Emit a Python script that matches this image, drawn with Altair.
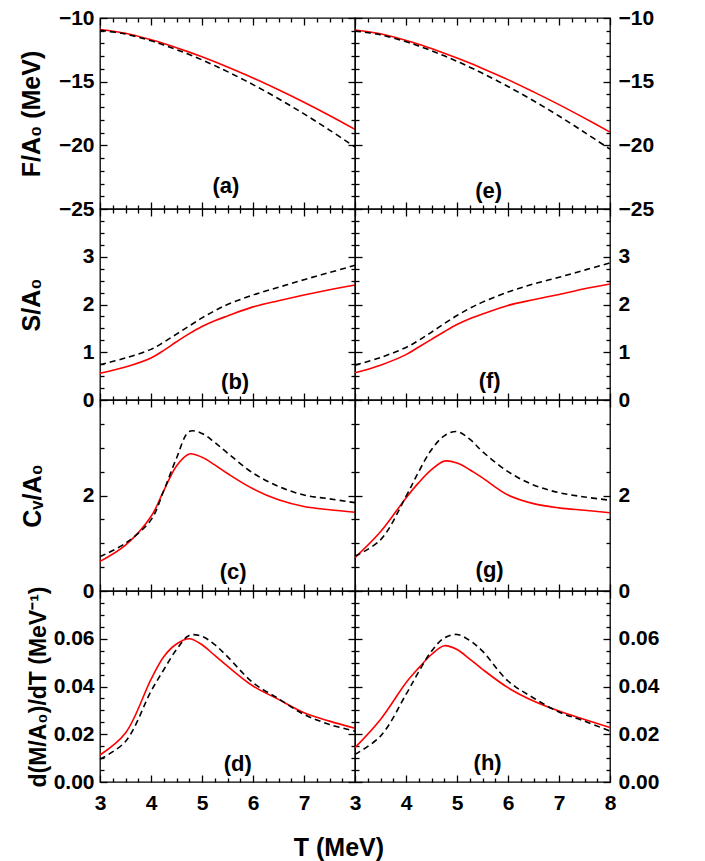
import altair as alt
import pandas as pd

# ---------------- data ----------------
T = [3, 3.5, 4, 4.25, 4.5, 4.75, 5, 5.25, 5.5, 6, 6.5, 7, 7.5, 8]

# free energy F/A0 (MeV)
a_red   = [-10.90, -11.20, -11.71, -12.00, -12.33, -12.68, -13.05, -13.44, -13.85, -14.71, -15.64, -16.62, -17.66, -18.75]
a_black = [-10.97, -11.26, -11.79, -12.12, -12.48, -12.87, -13.29, -13.74, -14.21, -15.23, -16.34, -17.53, -18.80, -20.13]
e_red   = [-10.94, -11.24, -11.76, -12.06, -12.40, -12.76, -13.14, -13.54, -13.96, -14.84, -15.80, -16.80, -17.86, -18.96]
e_black = [-11.02, -11.32, -11.86, -12.20, -12.57, -12.97, -13.40, -13.86, -14.34, -15.38, -16.50, -17.70, -18.98, -20.30]

# entropy S/A0
b_red   = [0.56, 0.69, 0.88, 1.04, 1.22, 1.39, 1.54, 1.66, 1.76, 1.95, 2.08, 2.20, 2.31, 2.41]
b_black = [0.74, 0.88, 1.06, 1.21, 1.38, 1.55, 1.72, 1.87, 2.00, 2.20, 2.36, 2.52, 2.67, 2.82]
f_red   = [0.57, 0.73, 0.95, 1.11, 1.27, 1.43, 1.58, 1.70, 1.80, 1.98, 2.10, 2.21, 2.33, 2.43]
f_black = [0.73, 0.89, 1.10, 1.25, 1.42, 1.60, 1.77, 1.92, 2.05, 2.26, 2.43, 2.57, 2.72, 2.87]

# heat capacity Cv/A0
c_red   = [0.62, 0.96, 1.56, 2.10, 2.62, 2.87, 2.80, 2.64, 2.46, 2.14, 1.91, 1.77, 1.70, 1.65]
c_black = [0.72, 1.00, 1.49, 2.10, 2.78, 3.34, 3.30, 3.11, 2.89, 2.47, 2.19, 2.01, 1.93, 1.85]
g_red   = [0.70, 1.24, 1.95, 2.27, 2.54, 2.72, 2.68, 2.54, 2.37, 2.01, 1.83, 1.74, 1.69, 1.64]
g_black = [0.73, 1.07, 1.98, 2.50, 2.96, 3.25, 3.34, 3.18, 2.92, 2.50, 2.22, 2.06, 1.97, 1.90]

# d(M/A0)/dT (MeV^-1)
d_red   = [0.0113, 0.0205, 0.0430, 0.0525, 0.0578, 0.0600, 0.0575, 0.0530, 0.0485, 0.0402, 0.0346, 0.0290, 0.0255, 0.0225]
d_black = [0.0095, 0.0170, 0.0380, 0.0470, 0.0555, 0.0614, 0.0610, 0.0575, 0.0525, 0.0416, 0.0349, 0.0283, 0.0241, 0.0213]
h_red   = [0.0144, 0.0262, 0.0416, 0.0478, 0.0534, 0.0571, 0.0555, 0.0515, 0.0472, 0.0395, 0.0339, 0.0297, 0.0262, 0.0228]
h_black = [0.0116, 0.0192, 0.0367, 0.0462, 0.0548, 0.0603, 0.0618, 0.0593, 0.0548, 0.0423, 0.0352, 0.0293, 0.0255, 0.0213]

panel_tags = ["(a)", "(b)", "(c)", "(d)", "(e)", "(f)", "(g)", "(h)"]
tag_x = [5.47, 5.65, 5.61, 5.70, 5.62, 5.64, 5.64, 5.60]
tag_y = [-23.2, 0.37, 0.40, 0.0074, -23.6, 0.40, 0.43, 0.0081]

y_titles = ["F/A\u2080 (MeV)", "S/A\u2080", "C\u1d65/A\u2080", "d(M/A\u2080)/dT (MeV\u207b\u00b9)"]
x_title = "T (MeV)"

x_major_left = [3, 4, 5, 6, 7]
x_major_right = [3, 4, 5, 6, 7, 8]
x_minor = [3.25, 3.5, 3.75, 4.25, 4.5, 4.75, 5.25, 5.5, 5.75, 6.25, 6.5, 6.75, 7.25, 7.5, 7.75]

y_domains = [[-25, -10], [0, 4], [0, 4], [0, 0.08]]
y_major = [[-25, -20, -15, -10], [0, 1, 2, 3], [0, 2], [0, 0.02, 0.04, 0.06]]
y_minor = [
    [-24, -23, -22, -21, -19, -18, -17, -16, -14, -13, -12, -11],
    [0.25, 0.5, 0.75, 1.25, 1.5, 1.75, 2.25, 2.5, 2.75, 3.25, 3.5, 3.75],
    [0.5, 1, 1.5, 2.5, 3, 3.5],
    [0.005, 0.01, 0.015, 0.025, 0.03, 0.035, 0.045, 0.05, 0.055, 0.065, 0.07, 0.075],
]
y_formats = ["d", "d", "d", ".2f"]
y_title_x = [-68, -68, -67, -62]
y_title_size = [25, 25, 25, 23]

FONT = "Liberation Sans"
MAJ = 7
MIN = 4
TW = 1.3


def x_axis(orient, values, size, labels):
    kw = dict(orient=orient, values=values, tickSize=size, offset=-size, domain=False,
              grid=False, labels=labels, title=None, tickColor="black", tickWidth=TW)
    if labels:
        kw.update(labelFont=FONT, labelFontSize=21, labelFontWeight="bold", labelColor="black",
                  labelPadding=10, format="d", labelFlush=False, labelOverlap=False)
    return alt.Axis(**kw)


def y_axis(orient, values, size, labels, fmt, title=None, tx=-68, tsize=25):
    kw = dict(orient=orient, values=values, tickSize=size, offset=-size, domain=False,
              grid=False, labels=labels, tickColor="black", tickWidth=TW)
    if labels:
        kw.update(labelFont=FONT, labelFontSize=21, labelFontWeight="bold", labelColor="black",
                  labelPadding=6 if orient == "left" else 8, format=fmt, labelFlush=False,
                  labelOverlap=False)
    if title is not None:
        kw.update(title=title, titleFont=FONT, titleFontSize=tsize, titleFontWeight="bold",
                  titleColor="black", titleX=tx, titleBaseline="alphabetic", titleAngle=270)
    else:
        kw.update(title=None)
    return alt.Axis(**kw)


def panel(red, black, idx, row, col):
    red_df = pd.DataFrame({"T": T, "v": red})
    blk_df = pd.DataFrame({"T": T, "v": black})
    tag_df = pd.DataFrame({"T": [tag_x[idx]], "v": [tag_y[idx]], "t": [panel_tags[idx]]})
    xs = alt.Scale(domain=[3, 8], nice=False, zero=False)
    ys = alt.Scale(domain=y_domains[row], nice=False, zero=False)
    side = "left" if col == 0 else "right"
    other = "right" if col == 0 else "left"
    xmaj = x_major_left if col == 0 else x_major_right
    bottom = row == 3
    title = y_titles[row] if col == 0 else None
    fmt = y_formats[row]

    l1 = alt.Chart(red_df).mark_line(color="#ff0000", strokeWidth=1.6, interpolate="catmull-rom").encode(
        x=alt.X("T:Q", scale=xs, axis=x_axis("bottom", xmaj, MAJ, bottom)),
        y=alt.Y("v:Q", scale=ys, axis=y_axis(side, y_major[row], MAJ, True, fmt, title,
                                             y_title_x[row], y_title_size[row])),
    )
    l2 = alt.Chart(blk_df).mark_line(color="black", strokeWidth=1.6, strokeDash=[6, 4],
                                     interpolate="catmull-rom").encode(
        x=alt.X("T:Q", scale=xs, axis=x_axis("top", xmaj, MAJ, False)),
        y=alt.Y("v:Q", scale=ys, axis=y_axis(other, y_major[row], MAJ, False, fmt)),
    )
    l3 = alt.Chart(tag_df).mark_text(font=FONT, fontSize=22, fontWeight="bold", color="black",
                                     align="center", baseline="middle").encode(
        x=alt.X("T:Q", scale=xs, axis=x_axis("bottom", x_minor, MIN, False)),
        y=alt.Y("v:Q", scale=ys, axis=y_axis(side, y_minor[row], MIN, False, fmt)),
        text="t:N",
    )
    l4 = alt.Chart(tag_df).mark_point(opacity=0).encode(
        x=alt.X("T:Q", scale=xs, axis=x_axis("top", x_minor, MIN, False)),
        y=alt.Y("v:Q", scale=ys, axis=y_axis(other, y_minor[row], MIN, False, fmt)),
    )
    return alt.layer(l1, l2, l3, l4).resolve_scale(x="shared", y="shared").resolve_axis(
        x="independent", y="independent").properties(width=255, height=191)


left = [(a_red, a_black), (b_red, b_black), (c_red, c_black), (d_red, d_black)]
right = [(e_red, e_black), (f_red, f_black), (g_red, g_black), (h_red, h_black)]

panels = []
for r in range(4):
    panels.append(panel(left[r][0], left[r][1], r, r, 0))
    panels.append(panel(right[r][0], right[r][1], r + 4, r, 1))

chart = alt.concat(*panels, columns=2, spacing=0, bounds="flush").properties(
    title=alt.TitleParams(text=x_title, orient="bottom", anchor="middle", font=FONT, fontSize=25,
                          fontWeight="bold", color="black", offset=22),
    padding={"left": 18, "top": 6, "right": 10, "bottom": 4},
    background="white",
).configure_view(stroke="black", strokeWidth=1.3)

chart.save("out.html", embed_options={"renderer": "svg", "actions": False})
